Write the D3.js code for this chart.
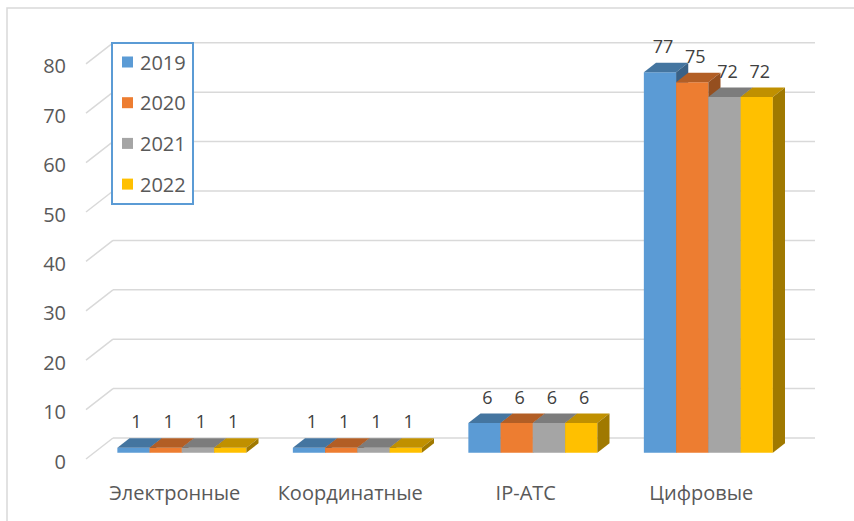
<!DOCTYPE html>
<html>
<head>
<meta charset="utf-8">
<script src="https://cdn.jsdelivr.net/npm/d3@7"></script>
<style>
  body { margin: 0; background: #fff; }
  text { font-family: "Open Sans", "Noto Sans", sans-serif; }
</style>
</head>
<body>
<div id="chart"></div>
<script>

var categories = ["Электронные", "Координатные", "IP-АТС", "Цифровые"];
var years = ["2019", "2020", "2021", "2022"];
var values2019 = [1, 1, 6, 77];
var values2020 = [1, 1, 6, 75];
var values2021 = [1, 1, 6, 72];
var values2022 = [1, 1, 6, 72];
var yTicks = [0, 10, 20, 30, 40, 50, 60, 70, 80];


BarChart3D = function(_parentElement, _series){
    this.parentElement = _parentElement;
    this.series = _series;

    this.initVis();
}

BarChart3D.prototype.initVis = function() {
    var vis = this;

    vis.width = 854;
    vis.height = 521;
    vis.depthX = 27;
    vis.depthY = 21;
    vis.z0 = 0.3;
    vis.z1 = 0.75;
    vis.color = d3.scaleOrdinal()
      .domain(years)
      .range(["#5b9bd5", "#ed7d31", "#a5a5a5", "#ffc000"]);

    vis.svg = d3.select('#' + vis.parentElement)
      .append("svg")
      .attr("width", vis.width)
      .attr("height", vis.height);

    // chart frame, right and bottom edges fall outside the picture
    vis.svg.append("rect")
      .attr("x", 7).attr("y", 8)
      .attr("width", 880).attr("height", 540)
      .attr("fill", "none")
      .attr("stroke", "#d9d9d9")
      .attr("stroke-width", 1.5);

    vis.x = d3.scaleBand()
      .domain(categories)
      .range([86, 788]);

    vis.y = d3.scaleLinear()
      .domain([0, 80])
      .range([459, 459 - 80 * 4.94]);

    //projection of a point with depth z (0 front, 1 back wall)
    vis.px = function(x, z) { return x + z * vis.depthX; };
    vis.py = function(v, z) { return vis.y(v) - z * vis.depthY; };

    var x0 = vis.x.range()[0], x1 = vis.x.range()[1];

    // gridlines on the back wall and the side wall diagonals
    var grid = vis.svg.append("g")
      .attr("stroke", "#d9d9d9")
      .attr("stroke-width", 1.5)
      .attr("fill", "none");
    grid.selectAll(".back")
      .data(yTicks)
      .enter()
      .append("line")
      .attr("x1", vis.px(x0, 1))
      .attr("x2", vis.px(x1, 1))
      .attr("y1", function(d){ return vis.py(d, 1); })
      .attr("y2", function(d){ return vis.py(d, 1); });
    grid.selectAll(".side")
      .data(yTicks)
      .enter()
      .append("line")
      .attr("x1", vis.px(x0, 0))
      .attr("x2", vis.px(x0, 1))
      .attr("y1", function(d){ return vis.py(d, 0); })
      .attr("y2", function(d){ return vis.py(d, 1); });

    // y tick labels
    vis.svg.append("g")
      .selectAll("text")
      .data(yTicks)
      .enter()
      .append("text")
      .attr("x", 66)
      .attr("y", function(d){ return vis.py(d, 0) + 2; })
      .attr("text-anchor", "end")
      .attr("dominant-baseline", "central")
      .attr("font-size", 20)
      .attr("fill", "#595959")
      .text(function(d){ return d; });

    // category labels
    vis.svg.append("g")
      .selectAll("text")
      .data(categories)
      .enter()
      .append("text")
      .attr("x", function(d){ return vis.x(d) + vis.x.bandwidth() / 2 + 1; })
      .attr("y", vis.py(0, 0) + 33)
      .attr("text-anchor", "middle")
      .attr("dominant-baseline", "central")
      .attr("font-size", 20)
      .attr("fill", "#595959")
      .text(function(d){ return d; });

    vis.groupW = vis.x.bandwidth() * 0.735;
    vis.barW = vis.groupW / years.length;

    var bars = [];
    categories.forEach(function(c, ci){
      years.forEach(function(yr, si){
        bars.push({ cat: c, year: yr, value: vis.series[si][ci], si: si });
      });
    });
    bars.forEach(function(d){
      d.xf = vis.x(d.cat) + (vis.x.bandwidth() - vis.groupW) / 2 + d.si * vis.barW;
    });

    var poly = function(pts){
      return pts.map(function(p){ return vis.px(p[0], p[1]) + "," + vis.py(p[2], p[1]); }).join(" ");
    };

    // draw left to right so each bar covers the side face of the one before
    var bar = vis.svg.append("g")
      .selectAll("g")
      .data(bars)
      .enter()
      .append("g");

    bar.append("polygon")
      .attr("fill", function(d){ return vis.color(d.year); })
      .attr("points", function(d){
        return poly([[d.xf, vis.z0, 0], [d.xf + vis.barW, vis.z0, 0],
                     [d.xf + vis.barW, vis.z0, d.value], [d.xf, vis.z0, d.value]]);
      });
    bar.append("polygon")
      .attr("fill", function(d){ return d3.color(vis.color(d.year)).darker(0.8); })
      .attr("points", function(d){
        return poly([[d.xf, vis.z0, d.value], [d.xf + vis.barW, vis.z0, d.value],
                     [d.xf + vis.barW, vis.z1, d.value], [d.xf, vis.z1, d.value]]);
      });
    bar.append("polygon")
      .attr("fill", function(d){ return d3.color(vis.color(d.year)).darker(1.3); })
      .attr("points", function(d){
        return poly([[d.xf + vis.barW, vis.z0, 0], [d.xf + vis.barW, vis.z1, 0],
                     [d.xf + vis.barW, vis.z1, d.value], [d.xf + vis.barW, vis.z0, d.value]]);
      });

    // value labels
    vis.svg.append("g")
      .selectAll("text")
      .data(bars)
      .enter()
      .append("text")
      .attr("x", function(d){ return vis.px(d.xf + vis.barW / 2, vis.z0) + 3; })
      .attr("y", function(d){ return vis.py(d.value, vis.z1) - 17; })
      .attr("text-anchor", "middle")
      .attr("dominant-baseline", "central")
      .attr("font-size", 18)
      .attr("fill", "#404040")
      .text(function(d){ return d.value; });

    //add legend
    vis.legend = vis.svg.append("g");
    vis.legend.append("rect")
      .attr("x", 112).attr("y", 43)
      .attr("width", 81).attr("height", 161)
      .attr("fill", "#fff")
      .attr("stroke", "#5b9bd5")
      .attr("stroke-width", 2);
    var item = vis.legend.selectAll("g")
      .data(years)
      .enter()
      .append("g")
      .attr('transform', function(d,i){ return "translate(122," + (62 + i * 40.7) + ")"; });
    item.append("rect")
      .attr("y", -5.5)
      .attr("width", 11)
      .attr("height", 11)
      .style("fill", function(d){ return vis.color(d); });
    item.append("text")
      .attr("x", 18)
      .attr("dominant-baseline", "central")
      .attr("font-size", 20)
      .attr("fill", "#595959")
      .text(function(d){ return d; });
};

var chart = new BarChart3D("chart", [values2019, values2020, values2021, values2022]);

</script>
</body>
</html>
